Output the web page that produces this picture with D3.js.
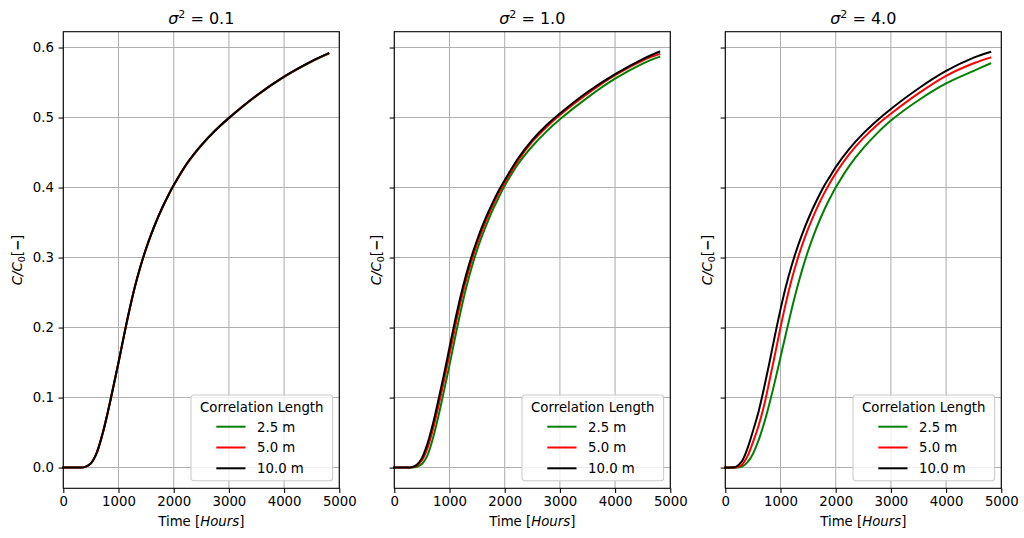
<!DOCTYPE html>
<html>
<head>
<meta charset="utf-8">
<script src="https://cdn.jsdelivr.net/npm/d3@7"></script>
<style>
  body { margin: 0; background: #fff; }
  text { font-family: "DejaVu Sans", sans-serif; fill: #000; }
</style>
</head>
<body>
<div id="chart"></div>
<script>
// Time axis shared by all curves (hours)
const times = [0, 100, 200, 300, 400, 500, 600, 700, 800, 900, 1000, 1100, 1200, 1300, 1400, 1500, 1600, 1700, 1800, 1900, 2000,
  2250, 2500, 2750, 3000, 3500, 4000, 4500, 4800];

// sigma^2 = 0.1
const s01_len25 = [0, 0, 0, 0, 0.001, 0.006, 0.02, 0.045, 0.077, 0.113, 0.1495, 0.1885, 0.2255, 0.259, 0.2875, 0.3125, 0.3345, 0.3542, 0.372, 0.3882, 0.403,
  0.435, 0.46, 0.481, 0.499, 0.531, 0.558, 0.58, 0.5911];
const s01_len50 = [0, 0, 0, 0, 0.001, 0.006, 0.02, 0.045, 0.077, 0.113, 0.15, 0.189, 0.226, 0.2592, 0.2878, 0.3128, 0.3348, 0.3545, 0.3723, 0.3885, 0.4033,
  0.4353, 0.4603, 0.4813, 0.4993, 0.5313, 0.5583, 0.5803, 0.5914];
const s01_len100 = [0, 0, 0, 0, 0.001, 0.006, 0.02, 0.045, 0.077, 0.113, 0.15, 0.189, 0.226, 0.2595, 0.288, 0.313, 0.335, 0.3547, 0.3725, 0.3887, 0.4035,
  0.4355, 0.4605, 0.4815, 0.4995, 0.5315, 0.5585, 0.5805, 0.5916];

// sigma^2 = 1.0
const s10_len25 = [0, 0, 0, 0, 0.0008, 0.005, 0.0175, 0.042, 0.0738, 0.1094, 0.1463, 0.1851, 0.2223, 0.2562, 0.2855, 0.3108, 0.333, 0.3529, 0.3709, 0.3871, 0.4025,
  0.4345, 0.459, 0.4795, 0.4975, 0.5285, 0.5555, 0.577, 0.5866];
const s10_len50 = [0, 0, 0, 0.0001, 0.0025, 0.0102, 0.0275, 0.0546, 0.0878, 0.124, 0.1617, 0.2001, 0.236, 0.268, 0.2955, 0.3196, 0.3409, 0.36, 0.3774, 0.3931, 0.4073,
  0.4395, 0.4655, 0.4858, 0.5035, 0.534, 0.5605, 0.5815, 0.5905];
const s10_len100 = [0, 0, 0, 0.0003, 0.0035, 0.0135, 0.034, 0.0626, 0.097, 0.133, 0.1715, 0.2095, 0.2444, 0.2752, 0.3018, 0.3251, 0.3458, 0.3645, 0.3814, 0.397, 0.4105,
  0.4425, 0.468, 0.4887, 0.5059, 0.5365, 0.562, 0.5835, 0.594];

// sigma^2 = 4.0
const s40_len25 = [0, 0, 0, 0.0015, 0.0075, 0.0195, 0.0385, 0.0625, 0.0915, 0.1235, 0.1575, 0.192, 0.2255, 0.2565, 0.2845, 0.3095, 0.3317, 0.3515, 0.3693, 0.3853, 0.3999,
  0.4314, 0.4564, 0.4774, 0.4957, 0.5247, 0.5487, 0.5667, 0.5772];
const s40_len50 = [0, 0, 0.0003, 0.004, 0.016, 0.036, 0.059, 0.0878, 0.124, 0.1617, 0.2001, 0.236, 0.268, 0.2955, 0.3196, 0.3409, 0.36, 0.3774, 0.3931, 0.4073, 0.4202,
  0.448, 0.4706, 0.4895, 0.5055, 0.5345, 0.5595, 0.5775, 0.5856];
const s40_len100 = [0, 0, 0.0015, 0.009, 0.027, 0.052, 0.079, 0.113, 0.15, 0.189, 0.226, 0.2595, 0.288, 0.313, 0.335, 0.3547, 0.3725, 0.3887, 0.4035, 0.4163, 0.4291,
  0.4555, 0.4773, 0.4959, 0.5123, 0.5415, 0.5665, 0.5855, 0.5936];

const sigmaLabels = ["0.1", "1.0", "4.0"];
const lengthLabels = ["2.5 m", "5.0 m", "10.0 m"];
const lengthColors = ["green", "red", "black"];
const xTicks = [0, 1000, 2000, 3000, 4000, 5000];
const yTicks = [0, 0.1, 0.2, 0.3, 0.4, 0.5, 0.6];

const panels = [
  [s01_len25, s01_len50, s01_len100],
  [s10_len25, s10_len50, s10_len100],
  [s40_len25, s40_len50, s40_len100]
];

const W = 1024, H = 538;
const plotW = 276, plotTop = 31.7, plotBottom = 488.3;
const lefts = [63.3, 394.3, 725.3];

const svg = d3.select("#chart").append("svg")
  .attr("width", W).attr("height", H);

const x = d3.scaleLinear().domain([0, 5000]).range([0, plotW]);
const y = d3.scaleLinear().domain([-0.0296, 0.6226]).range([plotBottom - plotTop, 0]);
const ph = plotBottom - plotTop;

const line = d3.line()
  .x((d, i) => x(times[i]))
  .y(d => y(d))
  .curve(d3.curveCatmullRom.alpha(0.5));

panels.forEach((series, p) => {
  const g = svg.append("g").attr("transform", `translate(${lefts[p]},${plotTop})`);

  // grid
  g.append("g").selectAll("line").data(xTicks).enter().append("line")
    .attr("x1", d => x(d)).attr("x2", d => x(d))
    .attr("y1", 0).attr("y2", ph)
    .attr("stroke", "#b0b0b0").attr("stroke-width", 1.07);
  g.append("g").selectAll("line").data(yTicks).enter().append("line")
    .attr("y1", d => y(d)).attr("y2", d => y(d))
    .attr("x1", 0).attr("x2", plotW)
    .attr("stroke", "#b0b0b0").attr("stroke-width", 1.07);

  // curves
  series.forEach((vals, k) => {
    g.append("path")
      .datum(vals)
      .attr("d", line)
      .attr("fill", "none")
      .attr("stroke", lengthColors[k])
      .attr("stroke-width", 2)
      .attr("stroke-linecap", "square");
  });

  // axes
  const xAxis = g.append("g")
    .attr("transform", `translate(0,${ph})`)
    .call(d3.axisBottom(x).tickValues(xTicks).tickFormat(d3.format("d")).tickSizeOuter(0).tickSize(4.67).tickPadding(3.5));
  const yAxis = g.append("g")
    .call(d3.axisLeft(y).tickValues(yTicks).tickFormat(p === 0 ? d3.format(".1f") : () => "")
      .tickSizeOuter(0).tickSize(4.67).tickPadding(4.67));
  [xAxis, yAxis].forEach(a => {
    a.select(".domain").remove();
    a.selectAll(".tick line").attr("stroke", "#000").attr("stroke-width", 1.07);
    a.selectAll(".tick text").style("font-family", "DejaVu Sans").style("font-size", "13.3px");
  });

  // frame
  g.append("rect")
    .attr("x", 0).attr("y", 0).attr("width", plotW).attr("height", ph)
    .attr("fill", "none").attr("stroke", "#000").attr("stroke-width", 1.07);

  // title
  const t = g.append("text")
    .attr("x", plotW / 2).attr("y", -8)
    .attr("text-anchor", "middle")
    .style("font-size", "16px");
  t.append("tspan").style("font-style", "italic").text("σ");
  t.append("tspan").attr("dy", -6).style("font-size", "11px").text("2");
  t.append("tspan").attr("dy", 6).text(" = " + sigmaLabels[p]);

  // x label
  const xl = g.append("text")
    .attr("x", plotW / 2).attr("y", 526 - plotTop)
    .attr("text-anchor", "middle")
    .style("font-size", "13.3px");
  xl.append("tspan").text("Time [");
  xl.append("tspan").style("font-style", "italic").text("Hours");
  xl.append("tspan").text("]");

  // y label
  const yx = p === 0 ? -41 : -13.5;
  const yl = g.append("text")
    .attr("transform", `translate(${yx},${ph / 2}) rotate(-90)`)
    .attr("text-anchor", "middle")
    .style("font-size", "13.3px");
  yl.append("tspan").style("font-style", "italic").text("C/C");
  yl.append("tspan").attr("dy", 3).style("font-size", "9.5px").text("0");
  yl.append("tspan").attr("dy", -3).text("[");
  yl.append("tspan").style("font-weight", "bold").text("−");
  yl.append("tspan").text("]");

  // legend
  const lw = 141.6, lh = 85.7;
  const lg = g.append("g").attr("transform", `translate(${plotW - 6.7 - lw},${ph - 7.6 - lh})`);
  lg.append("rect")
    .attr("width", lw).attr("height", lh).attr("rx", 2.7)
    .attr("fill", "#fff").attr("fill-opacity", 0.8)
    .attr("stroke", "#cccccc").attr("stroke-width", 1.07);
  lg.append("text")
    .attr("x", lw / 2).attr("y", 16.5)
    .attr("text-anchor", "middle")
    .style("font-size", "13.3px")
    .text("Correlation Length");
  lengthLabels.forEach((lab, k) => {
    const ly = 31.7 + k * 20.8;
    lg.append("line")
      .attr("x1", 26.3).attr("x2", 53.5).attr("y1", ly).attr("y2", ly)
      .attr("stroke", lengthColors[k]).attr("stroke-width", 2).attr("stroke-linecap", "square");
    lg.append("text")
      .attr("x", 66).attr("y", ly + 4.8)
      .style("font-size", "13.3px")
      .text(lab);
  });
});
</script>
</body>
</html>
